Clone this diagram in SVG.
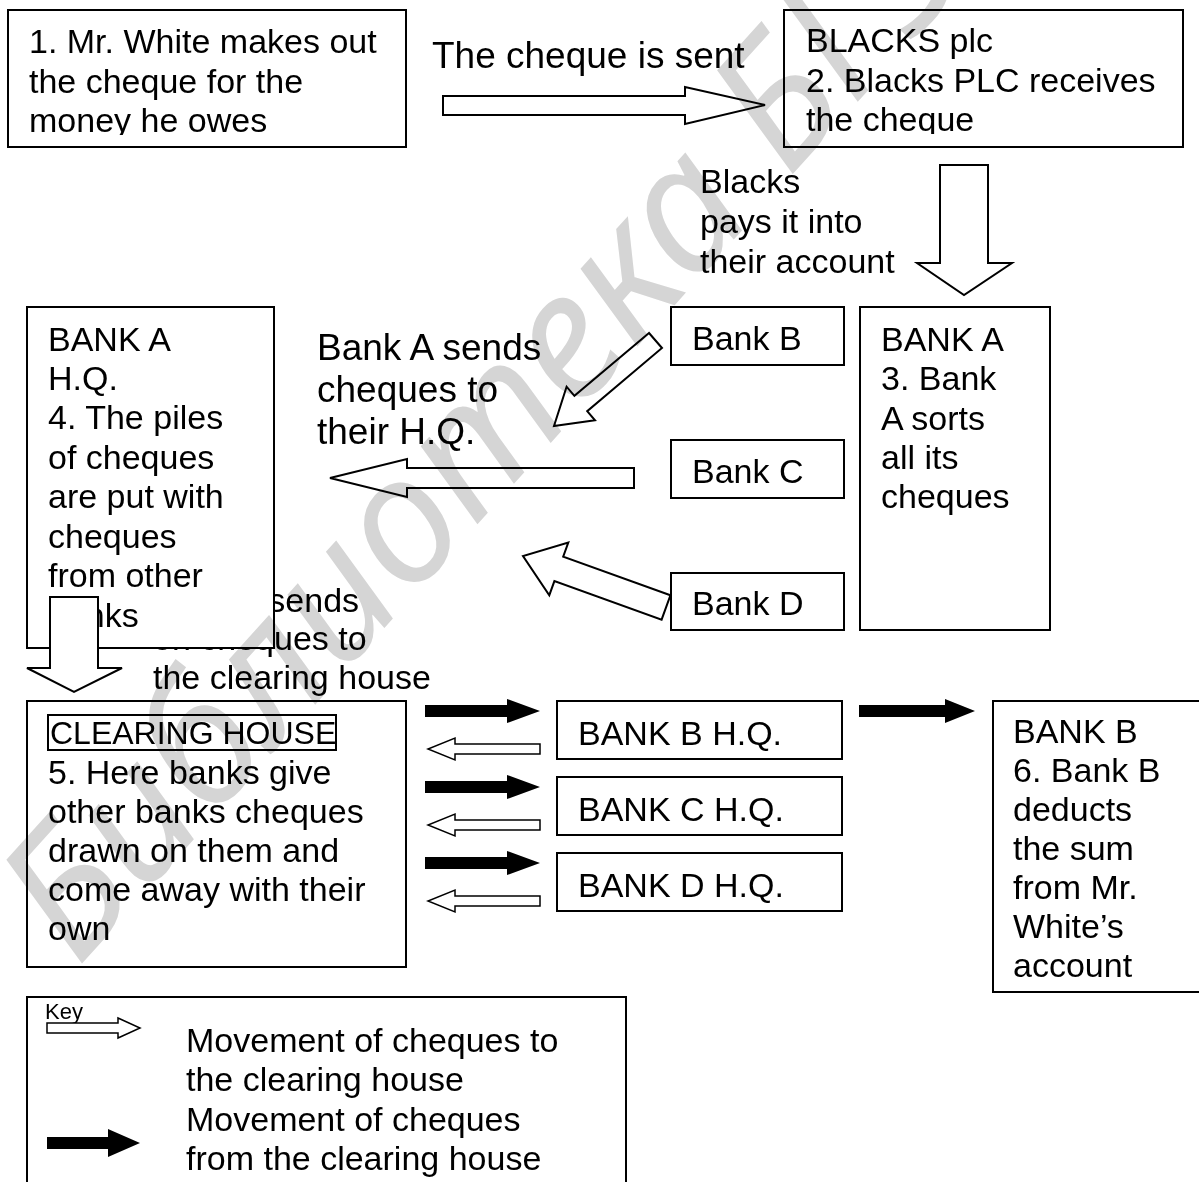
<svg xmlns="http://www.w3.org/2000/svg" width="1199" height="1182" viewBox="0 0 1199 1182">
<style>
text{font-family:"Liberation Sans",Arial,sans-serif;font-size:34px;fill:#000}
.big{font-size:37px}
.box{fill:#fff;stroke:#000;stroke-width:2}
.hol{fill:#fff;stroke:#000;stroke-width:2;stroke-linejoin:miter}
.sol{fill:#000;stroke:none}
.wm{font-family:"Noto Sans","Liberation Sans",sans-serif;font-style:italic;font-size:176px;fill:#d5d5d5}
</style>
<defs>
<clipPath id="c1"><rect x="0" y="0" width="420" height="135"/></clipPath>
<clipPath id="c2"><rect x="780" y="0" width="419" height="134"/></clipPath>
</defs>
<rect x="0" y="0" width="1199" height="1182" fill="#fff"/>

<g id="label-hq-to-ch">
<text x="153" y="612">Bank A sends</text>
<text x="153" y="650">on cheques to</text>
<text x="153" y="689">the clearing house</text>
</g>

<g id="n1">
<rect class="box" x="8" y="10" width="398" height="137"/>
<g clip-path="url(#c1)">
<text x="29" y="53">1. Mr. White makes out</text>
<text x="29" y="93">the cheque for the</text>
<text x="29" y="132">money he owes</text>
</g>
</g>

<g id="n2">
<rect class="box" x="784" y="10" width="399" height="137"/>
<g clip-path="url(#c2)">
<text x="806" y="52">BLACKS plc</text>
<text x="806" y="92">2. Blacks PLC receives</text>
<text x="806" y="131">the cheque</text>
</g>
</g>

<g id="bankA-hq">
<rect class="box" x="27" y="307" width="247" height="341"/>
<text x="48" y="351">BANK A</text>
<text x="48" y="390">H.Q.</text>
<text x="48" y="429">4. The piles</text>
<text x="48" y="469">of cheques</text>
<text x="48" y="508">are put with</text>
<text x="48" y="548">cheques</text>
<text x="48" y="587">from other</text>
<text x="48" y="627">banks</text>
</g>

<g id="bankB"><rect class="box" x="671" y="307" width="173" height="58"/><text x="692" y="350">Bank B</text></g>
<g id="bankC"><rect class="box" x="671" y="440" width="173" height="58"/><text x="692" y="483">Bank C</text></g>
<g id="bankD"><rect class="box" x="671" y="573" width="173" height="57"/><text x="692" y="615">Bank D</text></g>

<g id="bankA">
<rect class="box" x="860" y="307" width="190" height="323"/>
<text x="881" y="351">BANK A</text>
<text x="881" y="390">3. Bank</text>
<text x="881" y="430">A sorts</text>
<text x="881" y="469">all its</text>
<text x="881" y="508">cheques</text>
</g>

<g id="clearing-house">
<rect class="box" x="27" y="701" width="379" height="266"/>
<rect fill="none" stroke="#000" stroke-width="2" x="48" y="715" width="288" height="35"/>
<text x="50" y="744" style="font-size:32px">CLEARING HOUSE</text>
<text x="48" y="784">5. Here banks give</text>
<text x="48" y="823">other banks cheques</text>
<text x="48" y="862">drawn on them and</text>
<text x="48" y="901">come away with their</text>
<text x="48" y="940">own</text>
</g>

<g id="bankB-hq"><rect class="box" x="557" y="701" width="285" height="58"/><text x="578" y="745">BANK B H.Q.</text></g>
<g id="bankC-hq"><rect class="box" x="557" y="777" width="285" height="58"/><text x="578" y="821">BANK C H.Q.</text></g>
<g id="bankD-hq"><rect class="box" x="557" y="853" width="285" height="58"/><text x="578" y="897">BANK D H.Q.</text></g>

<g id="bankB-branch">
<rect class="box" x="993" y="701" width="210" height="291"/>
<text x="1013" y="743">BANK B</text>
<text x="1013" y="782">6. Bank B</text>
<text x="1013" y="821">deducts</text>
<text x="1013" y="860">the sum</text>
<text x="1013" y="899">from Mr.</text>
<text x="1013" y="938">White’s</text>
<text x="1013" y="977">account</text>
</g>

<g id="key">
<rect class="box" x="27" y="997" width="599" height="200"/>
<text x="45" y="1019" style="font-size:22px">Key</text>
<polygon class="hol" points="47,1023 118,1023 118,1018 140,1028 118,1038 118,1033 47,1033" style="stroke-width:1.5"/>
<polygon class="sol" points="47,1137 108,1137 108,1129 140,1143 108,1157 108,1149 47,1149"/>
<text x="186" y="1052">Movement of cheques to</text>
<text x="186" y="1091">the clearing house</text>
<text x="186" y="1131">Movement of cheques</text>
<text x="186" y="1170">from the clearing house</text>
</g>

<g id="connectors">
<polygon class="hol" points="443,96 685,96 685,87 765,105 685,124 685,115 443,115"/>
<text class="big" x="432" y="68">The cheque is sent</text>
<polygon class="hol" points="940,165 988,165 988,263 1012,263 964,295 917,263 940,263"/>
<text x="700" y="193">Blacks</text>
<text x="700" y="233">pays it into</text>
<text x="700" y="273">their account</text>
<polygon class="hol" points="649,333 574.4,395.8 566.6,386.7 554,426 595,420.3 587.2,411.2 662,348"/>
<polygon class="hol" points="634,468 407,468 407,459 330,478 407,497 407,488 634,488"/>
<polygon class="hol" points="670.4,595.3 563.2,556.7 568.3,542.6 523,556 549.3,595.2 554.4,581.1 661.6,619.7"/>
<text class="big" x="317" y="360">Bank A sends</text>
<text class="big" x="317" y="402">cheques to</text>
<text class="big" x="317" y="444">their H.Q.</text>
<polygon class="hol" points="50,597 98,597 98,668 122,668 74,692 27,668 50,668"/>
<polygon class="sol" points="425,705 507,705 507,699 540,711 507,723 507,717 425,717"/>
<polygon class="hol" points="540,744 455,744 455,738 428,749 455,760 455,754 540,754" style="stroke-width:1.5"/>
<polygon class="sol" points="425,781 507,781 507,775 540,787 507,799 507,793 425,793"/>
<polygon class="hol" points="540,820 455,820 455,814 428,825 455,836 455,830 540,830" style="stroke-width:1.5"/>
<polygon class="sol" points="425,857 507,857 507,851 540,863 507,875 507,869 425,869"/>
<polygon class="hol" points="540,896 455,896 455,890 428,901 455,912 455,906 540,906" style="stroke-width:1.5"/>
<polygon class="sol" points="859,705 945,705 945,699 975,711 945,723 945,717 859,717"/>
</g>

<g id="watermark" style="mix-blend-mode:multiply">
<text class="wm" transform="translate(78,968) rotate(-48)">Библиотека БГЭУ</text>
</g>
</svg>
